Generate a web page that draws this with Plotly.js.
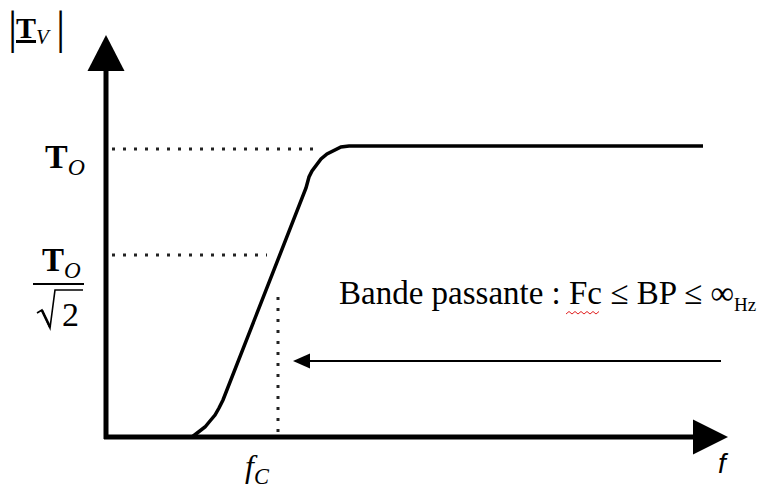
<!DOCTYPE html>
<html>
<head>
<meta charset="utf-8">
<script src="https://cdn.plot.ly/plotly-3.0.1.min.js"></script>
<style>html,body{margin:0;padding:0;background:#fff;}#chart{width:758px;height:492px;}</style>
</head>
<body>
<div id="chart"></div>
<script>
// ---- data (diagram units: origin at the axes' corner) ----
const freq = [86, 90, 94, 99, 104, 109, 113, 117, 200, 201, 203, 206, 210, 215, 221, 228, 235, 243, 597];
const gain = [0, 3, 6, 10, 16, 22, 29, 37, 249, 254, 260, 266, 272, 278, 283, 287, 290, 291, 291];
const T0 = 288;        // level T_O
const T0r2 = 182;      // level T_O / sqrt(2)
const fc = 172;        // cut-off frequency
const T0DotEnd = 209;
const T0r2DotEnd = 161;
const fcDotTop = 147;
const bandStart = 187; // left arrow tip
const bandEnd = 615;
const bandLevel = 76;
const xAxisEnd = 622;
const yAxisEnd = 402;

const tickLabels = {
  t0: '<b>T</b><sub><i>O</i></sub>',
  sqrt2: '2',
  fc: '<i>f</i><sub><i>C</i></sub>',
  yTitle: '<u><b>T</b></u><sub><i>V</i></sub>',
  xTitle: '<i>f</i>',
  band: 'Bande passante : Fc \u2264 BP \u2264 \u221e<sub><span style="font-size:19px">Hz</span></sub>'
};

// ---- helpers (pixel -> diagram coordinates) ----
const X = px => px - 106;
const Y = py => 437 - py;
const serif = 'Liberation Serif, Times New Roman, serif';
const dotted = {color: '#222', width: 3, dash: '3px,8px'};

const traces = [
  {x: freq, y: gain, mode: 'lines', line: {color: '#000', width: 3.5}},
  {x: [6, T0DotEnd], y: [T0, T0], mode: 'lines', line: dotted},
  {x: [6, T0r2DotEnd], y: [T0r2, T0r2], mode: 'lines', line: dotted},
  {x: [fc, fc], y: [5, fcDotTop], mode: 'lines', line: dotted},
  // axes
  {x: [-2, xAxisEnd - 35], y: [0, 0], mode: 'lines', line: {color: '#000', width: 5}},
  {x: [0, 0], y: [-2, yAxisEnd - 36], mode: 'lines', line: {color: '#000', width: 5}},
  // band arrow
  {x: [bandEnd, bandStart + 17], y: [bandLevel, bandLevel], mode: 'lines', line: {color: '#000', width: 2}}
];

const tri = (pts) => 'M' + pts.map(p => p[0] + ',' + p[1]).join(' L') + ' Z';
const poly = (pts) => 'M' + pts.map(p => X(p[0]) + ',' + Y(p[1])).join(' L');
const shapes = [
  {type: 'path', xref: 'x', yref: 'y', fillcolor: '#000', line: {width: 0},
   path: tri([[xAxisEnd, 0], [xAxisEnd - 35, 17.5], [xAxisEnd - 35, -17.5]])},
  {type: 'path', xref: 'x', yref: 'y', fillcolor: '#000', line: {width: 0},
   path: tri([[0, yAxisEnd], [-18.5, yAxisEnd - 36], [18.5, yAxisEnd - 36]])},
  {type: 'path', xref: 'x', yref: 'y', fillcolor: '#000', line: {width: 0},
   path: tri([[bandStart, bandLevel], [bandStart + 17, bandLevel + 7.5], [bandStart + 17, bandLevel - 7.5]])},
  // fraction bar
  {type: 'line', xref: 'x', yref: 'y', x0: X(33), x1: X(84), y0: Y(284), y1: Y(284), line: {color: '#000', width: 2}},
  // radical sign
  {type: 'path', xref: 'x', yref: 'y', line: {color: '#000', width: 1.6},
   path: poly([[37, 313], [42, 310], [50, 328], [55, 290], [83, 290]])},
  {type: 'path', xref: 'x', yref: 'y', line: {color: '#000', width: 2.6},
   path: poly([[42, 310.5], [50, 327]])}
];
// spell-check squiggle under "Fc"
let sq = 'M' + X(566) + ',' + Y(314);
for (let i = 1; i <= 11; i++) { sq += ' L' + X(566 + i * 3) + ',' + Y(i % 2 ? 311.5 : 314); }
shapes.push({type: 'path', xref: 'x', yref: 'y', path: sq, line: {color: '#e02020', width: 1}});

const ann = (px, py, text, size, opts) => Object.assign({
  x: X(px), y: Y(py), xref: 'x', yref: 'y', text: text, showarrow: false,
  xanchor: 'left', yanchor: 'middle', font: {family: serif, size: size, color: '#000'}
}, opts || {});

const annotations = [
  ann(12, 27, '|', 46, {xanchor: 'center'}),
  ann(60, 27, '|', 46, {xanchor: 'center'}),
  ann(14, 30, tickLabels.yTitle, 30),
  ann(43, 159, tickLabels.t0, 34),
  ann(40, 262, tickLabels.t0, 33),
  ann(70, 314, tickLabels.sqrt2, 34, {xanchor: 'center'}),
  ann(243, 468, tickLabels.fc, 32),
  ann(716, 463, tickLabels.xTitle, 28, {font: {family: 'Liberation Sans, Arial, sans-serif', size: 28, color: '#000'}}),
  ann(337, 295, tickLabels.band, 33)
];

const layout = {
  width: 758, height: 492,
  margin: {l: 0, r: 0, t: 0, b: 0},
  paper_bgcolor: '#fff', plot_bgcolor: '#fff',
  showlegend: false,
  xaxis: {range: [-106, 652], visible: false, fixedrange: true},
  yaxis: {range: [-55, 437], visible: false, fixedrange: true},
  shapes: shapes,
  annotations: annotations
};

Plotly.newPlot('chart', traces, layout, {staticPlot: true, displayModeBar: false});
</script>
</body>
</html>
